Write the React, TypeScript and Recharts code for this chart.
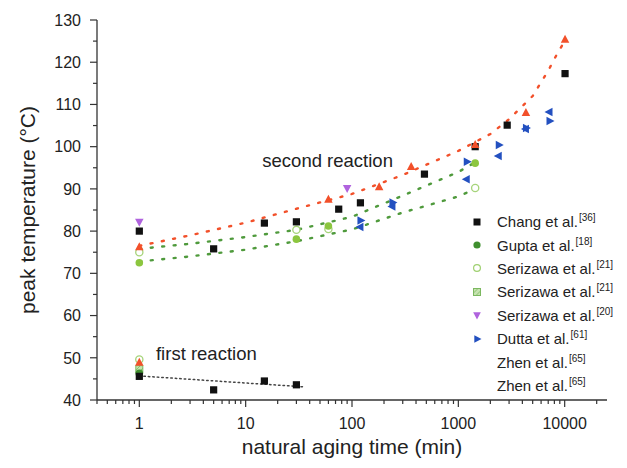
import { ScatterChart, Scatter, XAxis, YAxis, ReferenceDot } from 'recharts'

type P = { x: number; y: number }

// Chang et al. [36] – black squares (first + second reaction)
const chang: P[] = [
  { x: 1, y: 45.6 }, { x: 5, y: 42.4 }, { x: 15, y: 44.5 }, { x: 30, y: 43.6 },
  { x: 1, y: 80 }, { x: 5, y: 75.8 }, { x: 15, y: 81.9 }, { x: 30, y: 82.2 },
  { x: 75, y: 85.2 }, { x: 120, y: 86.7 }, { x: 480, y: 93.5 }, { x: 1440, y: 100 },
  { x: 2880, y: 105.1 }, { x: 10080, y: 117.3 },
]
// Gupta et al. [18]
const guptaFirst: P[] = [{ x: 1, y: 46.3 }]
const guptaSecond: P[] = [{ x: 1, y: 72.5 }, { x: 30, y: 78.1 }, { x: 60, y: 81.2 }, { x: 1440, y: 96.1 }]
// Serizawa et al. [21] – open circles / hatched squares
const serizawaOpen: P[] = [
  { x: 1, y: 49.6 }, { x: 1, y: 75 }, { x: 30, y: 80.3 }, { x: 60, y: 80.5 }, { x: 1440, y: 90.2 },
]
const serizawaHatch: P[] = [{ x: 1, y: 47.3 }]
// Serizawa et al. [20]
const serizawa20: P[] = [{ x: 1, y: 82.2 }, { x: 90, y: 90.2 }]
// Dutta et al. [61]
const duttaRight: P[] = [
  { x: 120, y: 82.5 }, { x: 240, y: 86.8 }, { x: 1200, y: 96.4 }, { x: 2400, y: 100.4 },
  { x: 4320, y: 104.4 }, { x: 7200, y: 106.1 },
]
const duttaLeft: P[] = [
  { x: 120, y: 81 }, { x: 240, y: 85.8 }, { x: 1200, y: 92.3 }, { x: 2400, y: 97.8 },
  { x: 4320, y: 104.2 }, { x: 7200, y: 108.2 },
]
// Zhen et al. [65] – red triangles
const zhen: P[] = [
  { x: 1, y: 48.8 }, { x: 1, y: 76.2 }, { x: 60, y: 87.4 }, { x: 180, y: 90.4 },
  { x: 360, y: 95.2 }, { x: 1440, y: 100.4 }, { x: 4320, y: 108 }, { x: 10080, y: 125.3 },
]

// dotted trend lines
const redFit: P[] = [
  { x: 1, y: 76.5 }, { x: 3, y: 79 }, { x: 10, y: 82 }, { x: 30, y: 85.3 }, { x: 100, y: 88.8 },
  { x: 300, y: 93.3 }, { x: 1000, y: 99 }, { x: 2000, y: 103 }, { x: 3000, y: 106.5 },
  { x: 5000, y: 112 }, { x: 7000, y: 118 }, { x: 8500, y: 122 }, { x: 10000, y: 125 },
]
const greenUpper: P[] = [
  { x: 1, y: 75.8 }, { x: 3, y: 77 }, { x: 10, y: 78.6 }, { x: 30, y: 80.3 }, { x: 100, y: 83.4 },
  { x: 300, y: 88.4 }, { x: 1000, y: 94 }, { x: 1440, y: 96.3 },
]
const greenLower: P[] = [
  { x: 1, y: 72.8 }, { x: 3, y: 74 }, { x: 10, y: 75.6 }, { x: 30, y: 77.6 }, { x: 100, y: 80.4 },
  { x: 300, y: 84.4 }, { x: 1000, y: 88.2 }, { x: 1440, y: 90 },
]
const firstFit: P[] = [{ x: 1, y: 45.7 }, { x: 36, y: 43.1 }]

const xMajor = [1, 10, 100, 1000, 10000]
const yMajor = [40, 50, 60, 70, 80, 90, 100, 110, 120, 130]

const legendRows = [
  { name: 'Chang et al.', ref: '[36]', mark: 'square' },
  { name: 'Gupta et al.', ref: '[18]', mark: 'dot' },
  { name: 'Serizawa et al.', ref: '[21]', mark: 'ring' },
  { name: 'Serizawa et al.', ref: '[21]', mark: 'hatch' },
  { name: 'Serizawa et al.', ref: '[20]', mark: 'down' },
  { name: 'Dutta et al.', ref: '[61]', mark: 'right' },
  { name: 'Zhen et al.', ref: '[65]', mark: 'none' },
  { name: 'Zhen et al.', ref: '[65]', mark: 'none' },
]

const xTicks: number[] = []
for (let k = -1; k <= 4; k++) {
  for (let m = 1; m <= 9; m++) {
    const v = m * Math.pow(10, k)
    if (v >= 0.4 && v <= 25000) xTicks.push(v)
  }
}
const yTicks: number[] = []
for (let v = 40; v <= 130; v += 5) yTicks.push(v)

const FONT = '"Liberation Sans", Arial, sans-serif'
const INK = '#222'
const RED = '#f2502a'
const LGREEN = '#8cc63f'
const DGREEN = '#3f8f2e'
const FITGREEN = '#4f9a3c'
const PURPLE = '#b063de'
const BLUE = '#2350c0'

const XTick = (props: any) => {
  const { x, y, payload } = props
  const major = xMajor.includes(payload.value)
  return (
    <g>
      <line x1={x} x2={x} y1={y} y2={y + (major ? 7 : 4)} stroke="#333" strokeWidth={1.2} />
      {major && (
        <text x={x} y={y + 29} textAnchor="middle" fontSize={16} fill={INK} fontFamily={FONT}>
          {payload.value}
        </text>
      )}
    </g>
  )
}

const YTick = (props: any) => {
  const { x, y, payload } = props
  const major = yMajor.includes(payload.value)
  return (
    <g>
      <line x1={x - (major ? 7 : 4)} x2={x} y1={y} y2={y} stroke="#333" strokeWidth={1.2} />
      {major && (
        <text x={x - 16} y={y} dy="0.36em" textAnchor="end" fontSize={16} fill={INK} fontFamily={FONT}>
          {payload.value}
        </text>
      )}
    </g>
  )
}

const triPath = (cx: number, cy: number, dir: string, s: number) => {
  const a = s, b = s * 0.85
  if (dir === 'up') return `M${cx},${cy - a}L${cx + b},${cy + a * 0.6}L${cx - b},${cy + a * 0.6}Z`
  if (dir === 'down') return `M${cx},${cy + a}L${cx + b},${cy - a * 0.6}L${cx - b},${cy - a * 0.6}Z`
  if (dir === 'right') return `M${cx + a},${cy}L${cx - a * 0.6},${cy + b}L${cx - a * 0.6},${cy - b}Z`
  return `M${cx - a},${cy}L${cx + a * 0.6},${cy + b}L${cx + a * 0.6},${cy - b}Z`
}

const square = (fill: string) => (p: any) => <rect x={p.cx - 3.6} y={p.cy - 3.6} width={7.2} height={7.2} fill={fill} />
const dot = (fill: string) => (p: any) => <circle cx={p.cx} cy={p.cy} r={3.8} fill={fill} />
const ring = (stroke: string) => (p: any) => (
  <circle cx={p.cx} cy={p.cy} r={3.6} fill="#fff" stroke={stroke} strokeWidth={1.3} />
)
const hatch = (p: any) => (
  <g>
    <rect x={p.cx - 3.5} y={p.cy - 3.5} width={7} height={7} fill="#c6e3b0" stroke="#7cb860" strokeWidth={1} />
    <line x1={p.cx - 3.5} y1={p.cy + 1} x2={p.cx + 1} y2={p.cy - 3.5} stroke="#7cb860" strokeWidth={0.8} />
    <line x1={p.cx - 1} y1={p.cy + 3.5} x2={p.cx + 3.5} y2={p.cy - 1} stroke="#7cb860" strokeWidth={0.8} />
  </g>
)
const tri = (fill: string, dir: string) => (p: any) => <path d={triPath(p.cx, p.cy, dir, 5)} fill={fill} />
const noDot = () => <g />

const legendIcon = (mark: string) => {
  const c = 10
  if (mark === 'square') return <rect x={c - 3.5} y={c - 3.5} width={7} height={7} fill="#111" />
  if (mark === 'dot') return <circle cx={c} cy={c} r={3.6} fill={DGREEN} />
  if (mark === 'ring') return <circle cx={c} cy={c} r={3.4} fill="#fff" stroke="#9fd070" strokeWidth={1.2} />
  if (mark === 'hatch') return hatch({ cx: c, cy: c })
  if (mark === 'down') return <path d={triPath(c, c, 'down', 4.5)} fill={PURPLE} />
  if (mark === 'right') return <path d={triPath(c, c, 'right', 4.5)} fill={BLUE} />
  return null
}

const TextMark = (text: string) => (props: any) => {
  const { viewBox } = props
  return (
    <text x={viewBox.x} y={viewBox.y} dy="0.35em" textAnchor="middle" fontSize={18.5} fill={INK} fontFamily={FONT}>
      {text}
    </text>
  )
}

export default function App() {
  return (
    <div style={{ position: 'absolute', left: 0, top: 0, width: 627, height: 468, background: '#fff', fontFamily: FONT }}>
      <ScatterChart width={627} height={468} margin={{ top: 20, right: 20, bottom: 0, left: 0 }}>
        <XAxis
          type="number" dataKey="x" scale="log" domain={[0.4, 25000]} allowDataOverflow
          ticks={xTicks} interval={0} tick={<XTick />} tickLine={false} tickSize={0} tickMargin={0}
          axisLine={{ stroke: '#333', strokeWidth: 1.3 }} height={68}
          label={{ value: 'natural aging time (min)', position: 'insideBottom', offset: 14, fontSize: 21, fill: INK, fontFamily: FONT }}
        />
        <YAxis
          type="number" dataKey="y" domain={[40, 130]} allowDataOverflow
          ticks={yTicks} interval={0} tick={<YTick />} tickLine={false} tickSize={0} tickMargin={0}
          axisLine={{ stroke: '#333', strokeWidth: 1.3 }} width={97}
          label={{ value: 'peak temperature (°C)', angle: -90, position: 'insideLeft', offset: 28, fontSize: 21, fill: INK, fontFamily: FONT, style: { textAnchor: 'middle' } }}
        />

        <Scatter data={firstFit} shape={noDot} isAnimationActive={false} legendType="none"
          line={{ stroke: '#444', strokeWidth: 1.5, strokeDasharray: '1.5 3', strokeLinecap: 'round' } as any} />
        <Scatter data={greenLower} shape={noDot} isAnimationActive={false} legendType="none"
          line={{ stroke: FITGREEN, strokeWidth: 2.4, strokeDasharray: '2 9.5', strokeLinecap: 'round' } as any} />
        <Scatter data={greenUpper} shape={noDot} isAnimationActive={false} legendType="none"
          line={{ stroke: FITGREEN, strokeWidth: 2.4, strokeDasharray: '2 9.5', strokeLinecap: 'round' } as any} />
        <Scatter data={redFit} shape={noDot} isAnimationActive={false} legendType="none"
          line={{ stroke: RED, strokeWidth: 2.4, strokeDasharray: '2 9.5', strokeLinecap: 'round' } as any} />

        <Scatter data={serizawaOpen} shape={ring('#a6d47a')} isAnimationActive={false} />
        <Scatter data={serizawaHatch} shape={hatch} isAnimationActive={false} />
        <Scatter data={guptaSecond} shape={dot(LGREEN)} isAnimationActive={false} />
        <Scatter data={guptaFirst} shape={dot(DGREEN)} isAnimationActive={false} />
        <Scatter data={chang} shape={square('#111')} isAnimationActive={false} />
        <Scatter data={serizawa20} shape={tri(PURPLE, 'down')} isAnimationActive={false} />
        <Scatter data={duttaRight} shape={tri(BLUE, 'right')} isAnimationActive={false} />
        <Scatter data={duttaLeft} shape={tri(BLUE, 'left')} isAnimationActive={false} />
        <Scatter data={zhen} shape={tri(RED, 'up')} isAnimationActive={false} />

        <ReferenceDot x={59} y={96.8} r={0} ifOverflow="visible" label={TextMark('second reaction')} />
        <ReferenceDot x={4.27} y={51.1} r={0} ifOverflow="visible" label={TextMark('first reaction')} />
      </ScatterChart>

      <div style={{ position: 'absolute', left: 467, top: 210, fontSize: 15, color: INK }}>
        {legendRows.map((r, i) => (
          <div key={i} style={{ position: 'absolute', top: i * 23.4, left: 0, height: 23.4, display: 'flex', alignItems: 'center', whiteSpace: 'nowrap' }}>
            <svg width={20} height={20} style={{ flex: 'none' }}>{legendIcon(r.mark)}</svg>
            <span style={{ marginLeft: 10 }}>
              {r.name}
              <sup style={{ fontSize: 10, verticalAlign: 0, position: 'relative', top: -6, marginLeft: 1 }}>{r.ref}</sup>
            </span>
          </div>
        ))}
      </div>
    </div>
  )
}
